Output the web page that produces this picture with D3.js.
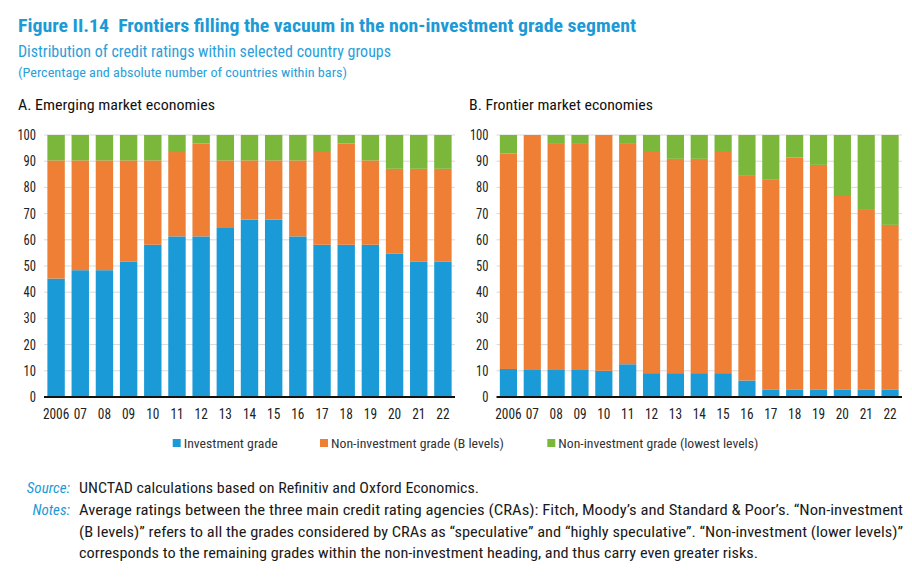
<!DOCTYPE html>
<html>
<head>
<meta charset="utf-8">
<script src="https://cdn.jsdelivr.net/npm/d3@7"></script>
<style>
  html, body { margin: 0; padding: 0; background: #fff; }
  svg { display: block; font-family: "Roboto Condensed", Roboto, "Liberation Sans", sans-serif; }
  text { white-space: pre; }
</style>
</head>
<body>
<svg id="chart" width="912" height="577"></svg>
<script>
// ---- Data (percent of countries) ----
const years = ["2006","07","08","09","10","11","12","13","14","15","16","17","18","19","20","21","22"];
const seriesNames = ["Investment grade", "Non-investment grade (B levels)", "Non-investment grade (lowest levels)"];
const yTicks = [0,10,20,30,40,50,60,70,80,90,100];

// Panel A: Emerging market economies
const emInvestment = [45.2,48.4,48.4,51.6,58.1,61.3,61.3,64.5,67.7,67.7,61.3,58.1,58.1,58.1,54.8,51.6,51.6];
const emBLevels    = [45.1,41.9,41.9,38.7,32.2,32.2,35.5,25.8,22.6,22.6,29.0,35.4,38.7,32.2,32.3,35.5,35.5];
const emLowest     = [9.7,9.7,9.7,9.7,9.7,6.5,3.2,9.7,9.7,9.7,9.7,6.5,3.2,9.7,12.9,12.9,12.9];

// Panel B: Frontier market economies
const fmInvestment = [10.7,10.3,10.3,10.3,10.0,12.5,9.1,9.1,9.1,9.1,6.3,2.9,2.9,2.9,2.9,2.9,2.9];
const fmBLevels    = [82.2,89.7,86.3,86.3,90.0,84.4,84.8,81.8,81.8,84.8,78.1,80.0,88.5,85.7,74.2,68.5,62.8];
const fmLowest     = [7.1,0,3.4,3.4,0,3.1,6.1,9.1,9.1,6.1,15.6,17.1,8.6,11.4,22.9,28.6,34.3];

const colors = ["#1a9bd7", "#ee7f35", "#7ab73a"];

// ---- Drawing ----
const svg = d3.select("#chart");
const titleBlue = "#1b9ad6";

svg.append("text").attr("x", 18).attr("y", 31.5)
  .attr("font-size", 19).attr("font-weight", 700).attr("fill", titleBlue)
  .attr("textLength", 618).attr("lengthAdjust", "spacingAndGlyphs")
  .text("Figure II.14  Frontiers filling the vacuum in the non-investment grade segment");
svg.append("text").attr("x", 18).attr("y", 57)
  .attr("font-size", 16.5).attr("fill", "#2aa0da")
  .attr("textLength", 373).attr("lengthAdjust", "spacingAndGlyphs")
  .text("Distribution of credit ratings within selected country groups");
svg.append("text").attr("x", 18).attr("y", 77)
  .attr("font-size", 12.5).attr("fill", "#2aa0da")
  .attr("textLength", 329).attr("lengthAdjust", "spacingAndGlyphs")
  .text("(Percentage and absolute number of countries within bars)");

function panel(cfg) {
  const rows = years.map((yr, i) => ({ year: yr, s0: cfg.inv[i], s1: cfg.b[i], s2: cfg.low[i] }));
  const stack = d3.stack().keys(["s0","s1","s2"])(rows);

  const x = d3.scaleBand().domain(years).range(cfg.xr).paddingInner(0.28).paddingOuter(0.14);
  const y = d3.scaleLinear().domain([0, 100]).range([397, 135]);

  svg.append("text").attr("x", cfg.titleX).attr("y", 109.5)
    .attr("font-size", 15).attr("fill", "#111")
    .attr("textLength", cfg.titleW).attr("lengthAdjust", "spacingAndGlyphs")
    .text(cfg.title);

  const g = svg.append("g");
  g.selectAll("line.grid").data(yTicks.filter(t => t > 0)).join("line")
    .attr("x1", cfg.xr[0]).attr("x2", cfg.xr[1])
    .attr("y1", d => y(d)).attr("y2", d => y(d))
    .attr("stroke", "#d9d9d9").attr("stroke-width", 1);

  g.selectAll("g.layer").data(stack).join("g")
    .attr("fill", (d, i) => colors[i])
    .selectAll("rect").data(d => d).join("rect")
    .attr("x", d => x(d.data.year))
    .attr("width", x.bandwidth())
    .attr("y", d => y(d[1]))
    .attr("height", d => Math.max(0, y(d[0]) - y(d[1])));

  g.append("line").attr("x1", cfg.xr[0]).attr("x2", cfg.xr[1])
    .attr("y1", y(0)).attr("y2", y(0)).attr("stroke", "#111").attr("stroke-width", 2);

  const ya = svg.append("g").attr("transform", `translate(${cfg.xr[0]},0)`)
    .call(d3.axisLeft(y).tickValues(yTicks).tickSize(0).tickPadding(8));
  ya.select(".domain").remove();
  ya.selectAll("text").attr("font-size", 14).attr("fill", "#222")
    .attr("font-family", "Roboto Condensed, Roboto, sans-serif")
    .attr("textLength", d => String(d).length * 6.2).attr("lengthAdjust", "spacingAndGlyphs");

  const xa = svg.append("g").attr("transform", `translate(0,${y(0)})`)
    .call(d3.axisBottom(x).tickSize(0).tickPadding(0));
  xa.select(".domain").remove();
  xa.selectAll("text").attr("font-size", 14).attr("fill", "#222")
    .attr("y", 22).attr("dy", 0)
    .attr("font-family", "Roboto Condensed, Roboto, sans-serif")
    .attr("textLength", d => String(d).length * 6.6).attr("lengthAdjust", "spacingAndGlyphs");
}

panel({ title: "A. Emerging market economies", titleX: 18, titleW: 197,
        xr: [44, 455], inv: emInvestment, b: emBLevels, low: emLowest });
panel({ title: "B. Frontier market economies", titleX: 469, titleW: 184,
        xr: [496.5, 902], inv: fmInvestment, b: fmBLevels, low: fmLowest });

// legend
const legendX = [172.7, 320, 547.3];
const legendW = [94, 173, 200];
const lg = svg.append("g");
seriesNames.forEach((name, i) => {
  lg.append("rect").attr("x", legendX[i]).attr("y", 439).attr("width", 8).attr("height", 8).attr("fill", colors[i]);
  lg.append("text").attr("x", legendX[i] + 11).attr("y", 448)
    .attr("font-size", 13.5).attr("fill", "#333")
    .attr("textLength", legendW[i]).attr("lengthAdjust", "spacingAndGlyphs")
    .text(name);
});

// source & notes
const notes = svg.append("g").attr("font-size", 14).attr("fill", "#1a1a1a");
notes.append("text").attr("x", 70).attr("y", 493).attr("text-anchor", "end")
  .attr("font-size", 15).attr("font-style", "italic").attr("fill", titleBlue).text("Source:");
notes.append("text").attr("x", 70).attr("y", 515).attr("text-anchor", "end")
  .attr("font-size", 15).attr("font-style", "italic").attr("fill", titleBlue).text("Notes:");
const noteLines = [
  ["UNCTAD calculations based on Refinitiv and Oxford Economics.", 493, 400],
  ["Average ratings between the three main credit rating agencies (CRAs): Fitch, Moody\u2019s and Standard & Poor\u2019s. \u201cNon-investment", 515, 824],
  ["(B levels)\u201d refers to all the grades considered by CRAs as \u201cspeculative\u201d and \u201chighly speculative\u201d. \u201cNon-investment (lower levels)\u201d", 536.5, 824],
  ["corresponds to the remaining grades within the non-investment heading, and thus carry even greater risks.", 558, 679]
];
noteLines.forEach(([t, yy, w]) => {
  notes.append("text").attr("x", 79).attr("y", yy)
    .attr("textLength", w).attr("lengthAdjust", "spacingAndGlyphs").text(t);
});
</script>
</body>
</html>
